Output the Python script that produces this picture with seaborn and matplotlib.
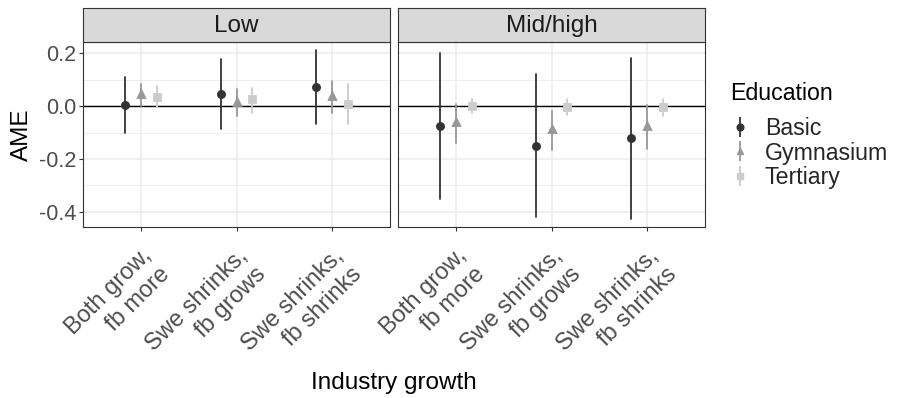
import numpy as np
import pandas as pd
import seaborn as sns
import matplotlib.pyplot as plt
import matplotlib.transforms as mtransforms
from matplotlib.lines import Line2D
from matplotlib.legend_handler import HandlerTuple

# categories
industry = ["Both grow,\nfb more", "Swe shrinks,\nfb grows", "Swe shrinks,\nfb shrinks"]
education = ["Basic", "Gymnasium", "Tertiary"]
panels = ["Low", "Mid/high"]

# AME estimates, rows = education, cols = industry
ame_low = [[0.004, 0.044, 0.073],
           [0.044, 0.016, 0.037],
           [0.035, 0.025, 0.006]]
lo_low = [[-0.103, -0.088, -0.068],
          [0.000, -0.037, -0.028],
          [-0.005, -0.025, -0.069]]
hi_low = [[0.109, 0.176, 0.210],
          [0.082, 0.063, 0.093],
          [0.075, 0.070, 0.082]]

ame_mid = [[-0.075, -0.150, -0.120],
           [-0.060, -0.088, -0.074],
           [0.000, -0.005, -0.005]]
lo_mid = [[-0.350, -0.420, -0.425],
          [-0.138, -0.166, -0.161],
          [-0.025, -0.034, -0.038]]
hi_mid = [[0.199, 0.120, 0.180],
          [0.006, -0.019, 0.003],
          [0.028, 0.025, 0.028]]

colors = ["#333333", "#989898", "#CCCCCC"]
markers = ["o", "^", "s"]

# long format: lo / est / hi rows so median = estimate, min-max = interval
rows = []
for panel, est, lo, hi in [("Low", ame_low, lo_low, hi_low), ("Mid/high", ame_mid, lo_mid, hi_mid)]:
    for e, edu in enumerate(education):
        for i, ind in enumerate(industry):
            for v in (lo[e][i], est[e][i], hi[e][i]):
                rows.append({"panel": panel, "Education": edu, "Industry growth": ind, "AME": v})
df = pd.DataFrame(rows)

sns.set_theme(style="white")
plt.rcParams['font.family'] = ['Liberation Sans', 'DejaVu Sans']

W, H = 898, 398
fig = plt.figure(figsize=(W / 100, H / 100), dpi=100)

panel_x = [83, 398]
panel_w = 307
top, bottom = 42, 227
strip_h = 34

for k, panel in enumerate(panels):
    ax = fig.add_axes([panel_x[k] / W, (H - bottom) / H, panel_w / W, (bottom - top) / H])
    sns.pointplot(data=df[df["panel"] == panel], x="Industry growth", y="AME",
                  hue="Education", order=industry, hue_order=education,
                  estimator="median", errorbar=lambda v: (v.min(), v.max()),
                  dodge=0.333, linestyle="none", markers=markers, palette=colors,
                  markersize=4.4, err_kws={"linewidth": 1.3}, legend=False, ax=ax)
    ax.axhline(0, color="black", lw=1.0, zorder=1)
    ax.set_xlim(-0.6, 2.6)
    ax.set_ylim(-0.457, 0.242)
    ax.set_yticks([0.2, 0.0, -0.2, -0.4])
    ax.set_yticks([0.1, -0.1, -0.3], minor=True)
    ax.grid(True, which="major", color="#EBEBEB", lw=1.1, zorder=0)
    ax.grid(True, which="minor", axis="y", color="#EBEBEB", lw=0.6, zorder=0)
    ax.set_axisbelow(True)
    for s in ax.spines.values():
        s.set_color("#333333")
        s.set_linewidth(0.8)
    ax.tick_params(axis="both", which="major", length=3, width=0.8, color="#333333",
                   labelcolor="#4D4D4D", bottom=True, left=(k == 0), pad=2)
    ax.tick_params(axis="y", labelsize=15.5)
    ax.tick_params(axis="y", which="minor", length=0)
    ax.set_xticks(range(len(industry)))
    ax.set_xticklabels(industry, rotation=45, ha="right", va="top",
                       rotation_mode="anchor", fontsize=17)
    shift = mtransforms.ScaledTranslation(0 / 100, -11 / 100, fig.dpi_scale_trans)
    for lab in ax.get_xticklabels():
        lab.set_transform(lab.get_transform() + shift)
    ax.set_xlabel("")
    if k == 0:
        ax.set_yticklabels(["0.2", "0.0", "-0.2", "-0.4"])
        ax.set_ylabel("AME", fontsize=17.5, color="black", labelpad=4)
    else:
        ax.set_yticklabels([])
        ax.set_ylabel("")

    sax = fig.add_axes([panel_x[k] / W, (H - top) / H, panel_w / W, strip_h / H])
    sax.set_facecolor("#D9D9D9")
    sax.set_xticks([])
    sax.set_yticks([])
    for s in sax.spines.values():
        s.set_color("#333333")
        s.set_linewidth(0.8)
    sax.text(0.5, 0.47, panel, ha="center", va="center", fontsize=17.5,
             color="#1A1A1A", transform=sax.transAxes)

fig.text((83 + 705) / 2 / W, 1 - 383 / H, "Industry growth", ha="center", va="center",
         fontsize=17.5, color="black")

# legend: title as separate text, entries as pointrange keys
fig.text(730 / W, 1 - 93 / H, "Education", ha="left", va="center", fontsize=16.7, color="black")
handles = []
for c, m in zip(colors, markers):
    bar = Line2D([], [], color=c, marker="|", markersize=14, markeredgewidth=1.3, linestyle="none")
    pt = Line2D([], [], color=c, marker=m, markersize=4.8, linestyle="none")
    handles.append((bar, pt))
leg = fig.legend(handles, education, handler_map={tuple: HandlerTuple(ndivide=1, pad=0)},
                 loc="center left", bbox_to_anchor=(708 / W, 1 - 153 / H), frameon=False,
                 fontsize=16.7, handlelength=1.0, handletextpad=0.55, labelspacing=0.07,
                 borderpad=0.4)

fig.savefig("out.png", dpi=100)
